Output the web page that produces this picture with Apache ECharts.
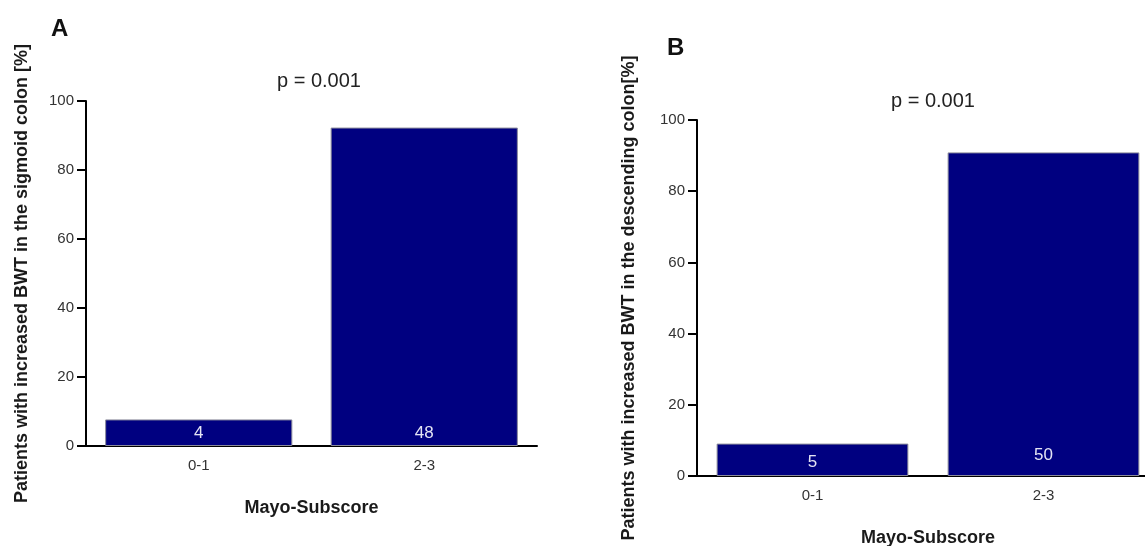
<!DOCTYPE html>
<html><head><meta charset="utf-8">
<script src="https://cdn.jsdelivr.net/npm/echarts@6/dist/echarts.min.js"></script>
<style>html,body{margin:0;padding:0;background:#fff}#c{width:1145px;height:546px}</style>
</head><body><div id="c"></div>
<script>
const categories = ['0-1', '2-3'];
const sigmoidPct = [7.7, 92.3];
const sigmoidN = [4, 48];
const descendingPct = [9.1, 90.9];
const descendingN = [5, 50];
const yTicks = [0, 20, 40, 60, 80, 100];
const panelLetters = ['A', 'B'];
const pText = ['p = 0.001', 'p = 0.001'];
const yNames = ['Patients with increased BWT in the sigmoid colon [%]', 'Patients with increased BWT in the descending colon[%]'];
const xName = 'Mayo-Subscore';

const font = 'Liberation Sans, Arial, sans-serif';
const chart = echarts.init(document.getElementById('c'));

function xAxis(i) {
  return {
    type: 'category', gridIndex: i, data: categories,
    name: xName, nameLocation: 'middle', nameGap: 53,
    nameTextStyle: {fontFamily: font, fontWeight: 'bold', fontSize: 18, color: '#1a1a1a'},
    axisLine: {lineStyle: {color: '#000', width: 2}},
    axisTick: {alignWithLabel: true, length: 9, lineStyle: {color: '#000', width: 2}},
    axisLabel: {fontFamily: font, fontSize: 15, color: '#333', margin: 12},
    splitLine: {show: false}
  };
}
function yAxis(i, gap) {
  return {
    type: 'value', gridIndex: i, min: 0, max: 100, interval: 20,
    name: yNames[i], nameLocation: 'middle', nameGap: gap,
    nameTextStyle: {fontFamily: font, fontWeight: 'bold', fontSize: 18, color: '#1a1a1a'},
    axisLine: {show: true, lineStyle: {color: '#000', width: 2}},
    axisTick: {show: true, length: 9, lineStyle: {color: '#000', width: 2}},
    axisLabel: {fontFamily: font, fontSize: 15, color: '#333', margin: 12,
      formatter: v => yTicks.includes(v) ? String(v) : ''},
    splitLine: {show: false}
  };
}
function series(i, pct, n, dists) {
  return {
    type: 'bar', xAxisIndex: i, yAxisIndex: i,
    data: pct.map((v, k) => ({value: v, label: {distance: dists[k]}})),
    barCategoryGap: '17%',
    itemStyle: {color: '#000080', borderColor: '#8a8a9a', borderWidth: 1},
    label: {show: true, position: 'insideBottom',
      formatter: p => String(n[p.dataIndex]),
      fontFamily: font, fontSize: 17, color: '#e4e4f4'},
    silent: true
  };
}

chart.setOption({
  animation: false,
  backgroundColor: '#fff',
  title: [
    {text: panelLetters[0], left: 46, top: 12, textStyle: {fontFamily: font, fontSize: 24, fontWeight: 'bold', color: '#111'}},
    {text: panelLetters[1], left: 662, top: 31, textStyle: {fontFamily: font, fontSize: 24, fontWeight: 'bold', color: '#111'}},
    {text: pText[0], left: 314, top: 66, textAlign: 'center', textStyle: {fontFamily: font, fontSize: 20, fontWeight: 'normal', color: '#222'}},
    {text: pText[1], left: 928, top: 86, textAlign: 'center', textStyle: {fontFamily: font, fontSize: 20, fontWeight: 'normal', color: '#222'}}
  ],
  grid: [
    {left: 86, top: 101, width: 451, height: 345, containLabel: false, outerBoundsMode: 'none'},
    {left: 697, top: 120, width: 462, height: 356, containLabel: false, outerBoundsMode: 'none'}
  ],
  xAxis: [xAxis(0), xAxis(1)],
  yAxis: [yAxis(0, 55), yAxis(1, 59)],
  series: [series(0, sigmoidPct, sigmoidN, [4, 4]), series(1, descendingPct, descendingN, [5, 12])]
});
</script></body></html>
